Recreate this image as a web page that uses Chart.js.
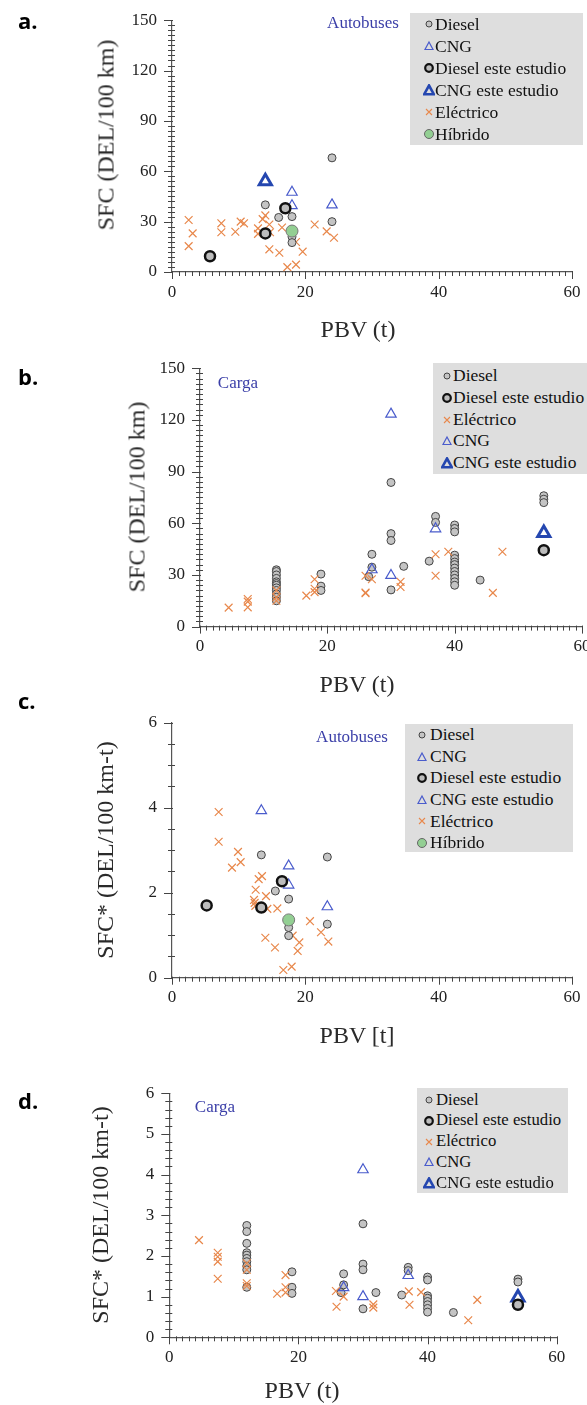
<!DOCTYPE html>
<html lang="es">
<head>
<meta charset="UTF-8">
<title>SFC vs PBV</title>
<script src="https://cdn.jsdelivr.net/npm/chart.js"></script>
<style>
  body { margin:0; width:587px; height:1405px; overflow:hidden; background:#fff; position:relative; font-family:"Liberation Serif", "Times New Roman", serif; color:#222; }
  canvas { position:absolute; left:0; }
  .lbl { position:absolute; font-family:"Open Sans", sans-serif; font-weight:700; font-size:22px; color:#000; line-height:1; }
  .ytitle { position:absolute; font-size:24px; color:#2a2a2a; transform:translate(-50%,-50%) rotate(-90deg); white-space:nowrap; }
  .xtitle { position:absolute; font-size:24px; color:#2a2a2a; transform:translate(-50%,-50%); white-space:nowrap; }
  .tag { position:absolute; color:#3b3fa8; font-size:17px; transform:translate(-50%,-50%); white-space:nowrap; }
  .legend { position:absolute; background:#dedede; }
  .legend .row { position:absolute; left:0; right:0; white-space:nowrap; }
  .legend svg { position:absolute; }
  .legend span { position:absolute; color:#111; }
</style>
</head>
<body>
<canvas id="chA" width="587" height="360" style="top:0px"></canvas>
<canvas id="chB" width="620" height="360" style="top:330px"></canvas>
<canvas id="chC" width="587" height="360" style="top:690px"></canvas>
<canvas id="chD" width="587" height="355" style="top:1050px"></canvas>

<div class="lbl" style="left:18px;top:9px">a.</div>
<div class="lbl" style="left:18px;top:365px">b.</div>
<div class="lbl" style="left:18px;top:689px">c.</div>
<div class="lbl" style="left:18px;top:1089px">d.</div>

<div class="ytitle" style="left:106px;top:135px">SFC (DEL/100 km)</div>
<div class="xtitle" style="left:358px;top:329px">PBV (t)</div>
<div class="ytitle" style="left:137px;top:497px">SFC (DEL/100 km)</div>
<div class="xtitle" style="left:357px;top:684px">PBV (t)</div>
<div class="ytitle" style="left:105px;top:850px">SFC* (DEL/100 km-t)</div>
<div class="xtitle" style="left:357px;top:1035px">PBV [t]</div>
<div class="ytitle" style="left:100px;top:1215px">SFC* (DEL/100 km-t)</div>
<div class="xtitle" style="left:302px;top:1390px">PBV (t)</div>

<div class="tag" style="left:363px;top:23px">Autobuses</div>
<div class="tag" style="left:238px;top:383px">Carga</div>
<div class="tag" style="left:352px;top:737px">Autobuses</div>
<div class="tag" style="left:215px;top:1107px">Carga</div>

<div class="legend" id="legA" style="left:410px;top:13px;width:173px;height:132px"></div>
<div class="legend" id="legB" style="left:433px;top:363px;width:160px;height:111px"></div>
<div class="legend" id="legC" style="left:405px;top:724px;width:168px;height:128px"></div>
<div class="legend" id="legD" style="left:417px;top:1088px;width:151px;height:105px"></div>

<script>
// ---- datos: [PBV, SFC] ----
// a. Autobuses, SFC (DEL/100 km)
const aDiesel = [[14,40],[16,32.5],[18,33],[18,21],[18,17.5],[24,68],[24,30]];
const aCNG = [[18,47.5],[18,39.5],[24,40]];
const aDieselEste = [[5.7,9.4],[14,23],[17,38]];
const aCNGEste = [[14,54]];
const aElec = [[2.5,31],[3.1,23],[2.5,15.4],[7.4,29],[7.4,23.7],[9.5,24],[10.3,30],[10.8,29],
  [12.9,26],[12.9,22.7],[13.6,31.5],[14,33.7],[14.6,28.3],[14.7,23.7],[14.6,13.5],[16.1,11.5],
  [16.5,26.5],[17.3,2.9],[18.6,4.4],[18.6,17.9],[19.6,12.1],[21.4,28.3],[23.2,24.2],[24.3,20.4]];
const aHib = [[18,24.4]];

// b. Carga, SFC (DEL/100 km)
const bDiesel = [[12,33],[12,32],[12,30],[12,28],[12,26],[12,25],[12,24],[12,22.5],[12,21],[12,19],[12,17],[12,15],
  [19,30.5],[19,23.5],[19,21],[27,42],[27,34.5],[26.5,29],[30,83.7],[30,54],[30,50],[30,21.3],
  [32,35],[36,38],[37,64],[37,60.5],
  [40,59],[40,57],[40,55],[40,41.5],[40,39.5],[40,37.5],[40,36],[40,34],[40,32],[40,30],[40,28],[40,26],[40,24],
  [44,27],[54,76],[54,74],[54,72]];
const bDieselEste = [[54,44.4]];
const bElec = [[4.5,11],[7.5,16],[7.5,14.5],[7.5,11.2],[12,21],[12,17],[12,15],[16.7,18],[18,20],[18,22],[18,27.5],
  [26,19.4],[26,19.8],[26,29.5],[27,27.5],[31.5,26],[31.5,23],[37,42],[39,43.5],[37,29.5],[46,19.6],[47.5,43.5]];
const bCNG = [[30,123.4],[30,29.7],[27,33],[37,56.8]];
const bCNGEste = [[54,54.3]];

// c. Autobuses, SFC* (DEL/100 km-t)
const cDiesel = [[13.4,2.89],[23.3,2.84],[15.5,2.04],[17.5,1.85],[17.5,1.18],[23.3,1.26],[17.5,0.99]];
const cCNG = [[13.4,3.93],[17.5,2.63],[17.5,2.18],[23.3,1.67]];
const cDieselEste = [[5.2,1.70],[13.4,1.65],[16.5,2.27]];
const cCNGEste = [];
const cElec = [[7,3.9],[7,3.2],[9.9,2.96],[10.3,2.72],[9,2.59],[13.5,2.39],[13,2.32],[12.55,2.07],[14.1,1.92],
  [12.3,1.83],[12.4,1.76],[12.5,1.69],[14.3,1.62],[15.8,1.63],[20.7,1.33],[22.35,1.07],[23.45,0.85],[18.1,0.99],
  [19.1,0.83],[14,0.94],[15.45,0.71],[18.85,0.63],[16.7,0.18],[17.95,0.26]];
const cHib = [[17.5,1.36]];

// d. Carga, SFC* (DEL/100 km-t)
const dDiesel = [[12,2.75],[12,2.6],[12,2.31],[12,2.08],[12,2.02],[12,1.94],[12,1.86],[12,1.75],[12,1.66],[12,1.23],
  [19,1.61],[19,1.23],[19,1.08],[26.6,1.1],[27,1.56],[27,1.29],[30,2.79],[30,1.8],[30,1.66],[30,0.7],
  [32,1.1],[36,1.04],[37,1.72],[37,1.64],
  [40,1.48],[40,1.41],[40,1.02],[40,0.96],[40,0.88],[40,0.8],[40,0.71],[40,0.62],[44,0.61],[54,1.43],[54,1.36]];
const dDieselEste = [[54,0.8]];
const dElec = [[4.6,2.39],[7.5,2.08],[7.5,1.98],[7.5,1.86],[7.5,1.44],[12,1.82],[12,1.66],[12,1.33],[12,1.26],
  [16.7,1.07],[18,1.53],[18,1.23],[18,1.1],[25.9,0.75],[25.8,1.14],[27,1.0],[31.6,0.81],[31.6,0.73],
  [37.1,1.13],[37.2,0.8],[39,1.11],[46.3,0.42],[47.7,0.92]];
const dCNG = [[30,4.12],[30,1.0],[27,1.22],[37,1.52]];
const dCNGEste = [[54,0.98]];

const legendA = ['Diesel', 'CNG', 'Diesel este estudio', 'CNG este estudio', 'Eléctrico', 'Híbrido'];
const legendB = ['Diesel', 'Diesel este estudio', 'Eléctrico', 'CNG', 'CNG este estudio'];
const legendC = ['Diesel', 'CNG', 'Diesel este estudio', 'CNG este estudio', 'Eléctrico', 'Híbrido'];
const legendD = ['Diesel', 'Diesel este estudio', 'Eléctrico', 'CNG', 'CNG este estudio'];

// estilos de los marcadores
const style = {
  diesel: { pointStyle:'circle', pointRadius:4, borderWidth:1, borderColor:'#444', backgroundColor:'#c4c4c4' },
  dieselEste: { pointStyle:'circle', pointRadius:5, borderWidth:2.5, borderColor:'#111', backgroundColor:'#bdbdbd' },
  cng: { pointStyle:'triangle', pointRadius:6, borderWidth:1.2, borderColor:'#4a5ccc', backgroundColor:'rgba(255,255,255,0)' },
  cngEste: { pointStyle:'triangle', pointRadius:7, borderWidth:3, borderColor:'#2547b0', backgroundColor:'rgba(255,255,255,0)' },
  elec: { pointStyle:'crossRot', pointRadius:5.5, borderWidth:1.2, borderColor:'#e8884c', backgroundColor:'#e8884c' },
  hib: { pointStyle:'circle', pointRadius:6, borderWidth:1, borderColor:'#777', backgroundColor:'#93cf93' }
};

const toXY = arr => arr.map(p => ({ x: p[0], y: p[1] }));
function ds(label, arr, st) {
  return Object.assign({ label, data: toXY(arr), pointHoverRadius: st.pointRadius }, st);
}

const tickFont = { family:'Liberation Serif', size:17 };

// marcas de escala: menores cruzando el eje, mayores más largas hacia fuera
const tickMarks = {
  id: 'tickMarks',
  afterDraw(chart, args, o) {
    const ctx = chart.ctx, xs = chart.scales.x, ys = chart.scales.y;
    const ca = chart.chartArea;
    ctx.save();
    ctx.strokeStyle = '#444';
    ctx.lineWidth = 1;
    ctx.beginPath();
    xs.ticks.forEach(t => {
      const px = Math.round(xs.getPixelForValue(t.value)) + 0.5;
      const major = t.value % 20 === 0;
      ctx.moveTo(px, ca.bottom - 1);
      ctx.lineTo(px, ca.bottom + (major ? 7 : 4));
    });
    ys.ticks.forEach(t => {
      const py = Math.round(ys.getPixelForValue(t.value)) + 0.5;
      const r = t.value / o.ymajor;
      const major = Math.abs(r - Math.round(r)) < 1e-6;
      ctx.moveTo(ca.left - (major ? 8 : 4), py);
      ctx.lineTo(ca.left + (major ? 1 : 3), py);
    });
    ctx.stroke();
    ctx.restore();
  }
};

function makeChart(id, sets, o) {
  return new Chart(document.getElementById(id), {
    type: 'scatter',
    data: { datasets: sets },
    plugins: [tickMarks],
    options: {
      responsive: false,
      animation: false,
      events: [],
      layout: { padding: { left:0, top:o.top, right:o.right, bottom:0 } },
      plugins: { legend:{ display:false }, tooltip:{ enabled:false }, tickMarks:{ ymajor:o.ymajor } },
      scales: {
        x: {
          type:'linear', min:0, max:60,
          afterFit: s => { s.height = o.xh; },
          ticks: { stepSize:1, autoSkip:false, maxRotation:0, font:tickFont, color:'#222', padding:6,
                   callback: v => (v % 20 === 0 ? String(v) : '') },
          grid: { drawOnChartArea:false, drawTicks:true, tickLength:4, tickColor:'rgba(0,0,0,0)' },
          border: { color:'#555', width:1.2 }
        },
        y: {
          type:'linear', min:0, max:o.ymax,
          afterFit: s => { s.width = o.left; },
          ticks: { stepSize:o.ystep, autoSkip:false, font:tickFont, color:'#222', padding:10,
                   callback: v => (Math.abs(v / o.ymajor - Math.round(v / o.ymajor)) < 1e-6 ? String(Math.round(v)) : '') },
          grid: { drawOnChartArea:false, drawTicks:true, tickLength:5, tickColor:'rgba(0,0,0,0)' },
          border: { color:'#555', width:1.2 }
        }
      }
    }
  });
}

makeChart('chA', [
  ds('Diesel este estudio', aDieselEste, style.dieselEste),
  ds('CNG este estudio', aCNGEste, style.cngEste),
  ds('Híbrido', aHib, style.hib),
  ds('Diesel', aDiesel, style.diesel),
  ds('CNG', aCNG, style.cng),
  ds('Eléctrico', aElec, style.elec)
], { top:12, right:15, xh:88, left:172, ymax:150, ystep:3, ymajor:30 });

makeChart('chB', [
  ds('Diesel este estudio', bDieselEste, style.dieselEste),
  ds('CNG este estudio', bCNGEste, style.cngEste),
  ds('Eléctrico', bElec, style.elec),
  ds('CNG', bCNG, style.cng),
  ds('Diesel', bDiesel, style.diesel)
], { top:38.3, right:38, xh:63.4, left:200, ymax:150, ystep:3, ymajor:30 });

makeChart('chC', [
  ds('Diesel este estudio', cDieselEste, style.dieselEste),
  ds('CNG este estudio', cCNGEste, style.cng),
  ds('Híbrido', cHib, style.hib),
  ds('Diesel', cDiesel, style.diesel),
  ds('CNG', cCNG, style.cng),
  ds('Eléctrico', cElec, style.elec)
], { top:32.7, right:15, xh:72.3, left:172, ymax:6, ystep:0.5, ymajor:2 });

makeChart('chD', [
  ds('Diesel este estudio', dDieselEste, style.dieselEste),
  ds('CNG este estudio', dCNGEste, style.cngEste),
  ds('Eléctrico', dElec, style.elec),
  ds('CNG', dCNG, style.cng),
  ds('Diesel', dDiesel, style.diesel)
], { top:43.3, right:30.3, xh:67.7, left:169.3, ymax:6, ystep:0.2, ymajor:1 });

// leyendas
const icon = {
  'Diesel': '<circle cx="6" cy="6" r="3" fill="#c4c4c4" stroke="#444" stroke-width="1"/>',
  'CNG': '<polygon points="6,2 10,9.5 2,9.5" fill="none" stroke="#4a5ccc" stroke-width="1.2"/>',
  'Diesel este estudio': '<circle cx="6" cy="6" r="3.8" fill="#bdbdbd" stroke="#111" stroke-width="2.2"/>',
  'CNG este estudio': '<polygon points="6,1.5 10.8,10.2 1.2,10.2" fill="none" stroke="#2547b0" stroke-width="2.6"/>',
  'Eléctrico': '<path d="M3,3 L9,9 M9,3 L3,9" stroke="#e8884c" stroke-width="1.1"/>',
  'Híbrido': '<circle cx="6" cy="6" r="4.5" fill="#93cf93" stroke="#666" stroke-width="1"/>'
};
function buildLegend(id, labels, c) {
  const el = document.getElementById(id);
  el.innerHTML = labels.map((t, i) => {
    const key = (c.thinEste && t === 'CNG este estudio') ? 'CNG' : t;
    const cy = c.first + i * c.rowH;
    return '<div class="row" style="top:' + (cy - c.rowH / 2) + 'px;height:' + c.rowH + 'px">' +
      '<svg width="12" height="12" style="left:' + (c.mx - 6) + 'px;top:' + (c.rowH / 2 - 6) + 'px">' + icon[key] + '</svg>' +
      '<span style="left:' + c.tx + 'px;top:0;line-height:' + c.rowH + 'px;font-size:' + c.fs + 'px">' + t + '</span></div>';
  }).join('');
}
buildLegend('legA', legendA, { first:11, rowH:22, mx:19, tx:25, fs:17.5 });
buildLegend('legB', legendB, { first:13, rowH:21.75, mx:14, tx:20, fs:17.5 });
buildLegend('legC', legendC, { first:11, rowH:21.6, mx:17, tx:25, fs:17.5, thinEste:true });
buildLegend('legD', legendD, { first:12, rowH:20.8, mx:12, tx:19, fs:16.7 });
</script>
</body>
</html>
